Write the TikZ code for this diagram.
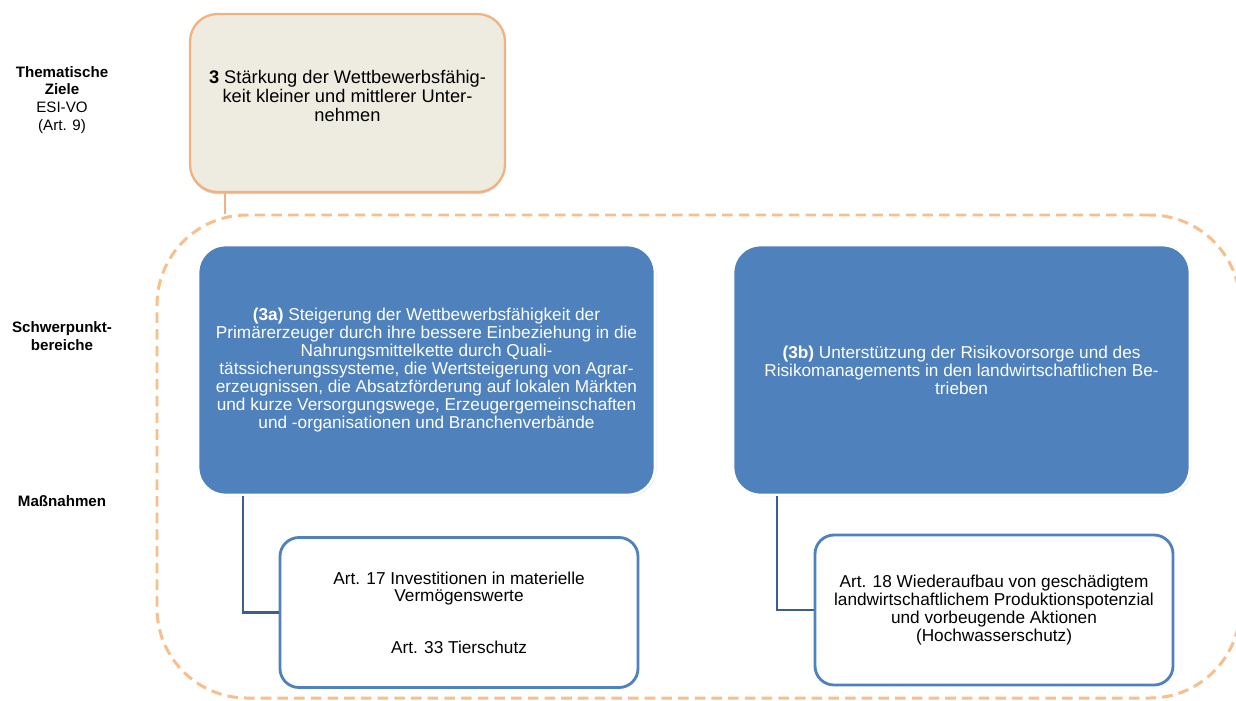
\documentclass[tikz,border=0pt]{standalone}
\usepackage{fontspec}
\setmainfont{Liberation Sans}
\usepackage{tikz}
\usetikzlibrary{positioning,shadows}

\definecolor{zielfill}{HTML}{EEECE1}
\definecolor{zielrand}{HTML}{F2B27F}
\definecolor{rahmen}{HTML}{F7BE8E}
\definecolor{spblau}{HTML}{4F81BD}
\definecolor{linkblau}{HTML}{3A5F8E}

\tikzset{
  goalbox/.style={draw=zielrand,line width=1.3pt,fill=zielfill,rounded corners=0.55cm,
    minimum width=6.3cm,minimum height=3.56cm,align=center,font=\fontsize{10.4}{10.8}\selectfont,
    drop shadow={opacity=0.35,shadow xshift=0pt,shadow yshift=-1.2pt}},
  focusbox/.style={draw=white,line width=1.5pt,fill=spblau,rounded corners=0.55cm,
    minimum width=9.14cm,minimum height=5.0cm,align=center,text=white,
    drop shadow={opacity=0.2,shadow xshift=0.8pt,shadow yshift=-0.8pt}},
  measurebox/.style={draw=spblau,line width=1.6pt,fill=white,rounded corners=0.38cm,
    minimum width=7.16cm,minimum height=3.0cm,align=center},
  sidelabel/.style={align=center,font=\fontsize{8.6}{10.2}\selectfont},
  framebox/.style={draw=rahmen,line width=1.7pt,dash pattern=on 6pt off 3.5pt,rounded corners=1.8cm},
  link/.style={draw=linkblau,line width=1.6pt},
  stem/.style={draw=zielrand,line width=1.5pt}
}

\begin{document}
\begin{tikzpicture}[font=\fontsize{9.8}{10.2}\selectfont]
\clip (0,0) rectangle (24.72,-14);

% left column
\node[sidelabel] (lz) at (1.24,-2.0) {\textbf{Thematische}\\\textbf{Ziele}\\ESI-VO\\(Art. 9)};
\node[sidelabel] (lsp) at (1.24,-6.72) {\textbf{Schwerpunkt-}\\\textbf{bereiche}};
\node[sidelabel] (lm) at (1.24,-10.02) {\textbf{Maßnahmen}};

% dashed frame round the focus areas
\node[framebox,minimum width=21.66cm,minimum height=9.66cm] (area) at (13.97,-9.13) {};

% thematic goal
\node[goalbox] (ziel3) at (6.95,-2.06) {\textbf{3} Stärkung der Wettbewerbsfähig-\\keit kleiner und mittlerer Unter-\\nehmen\\[-3pt]};
\draw[stem] ([xshift=-2.45cm]ziel3.south) -- ([xshift=-2.45cm]ziel3.south |- area.north);

% focus areas
\node[focusbox] (sp3a) at (8.53,-7.4) {\textbf{(3a)} Steigerung der Wettbewerbsfähigkeit der\\Primärerzeuger durch ihre bessere Einbeziehung in die\\Nahrungsmittelkette durch Quali-\\tätssicherungssysteme, die Wertsteigerung von Agrar-\\erzeugnissen, die Absatzförderung auf lokalen Märkten\\und kurze Versorgungswege, Erzeugergemeinschaften\\und -organisationen und Branchenverbände};
\node[focusbox] (sp3b) at (19.23,-7.4) {\textbf{(3b)} Unterstützung der Risikovorsorge und des\\Risikomanagements in den landwirtschaftlichen Be-\\trieben};

% measures
\node[measurebox] (m17) at (9.18,-12.25) {Art. 17 Investitionen in materielle\\Vermögenswerte\\[19pt]Art. 33 Tierschutz};
\node[measurebox] (m18) at (19.88,-12.2) {Art. 18 Wiederaufbau von geschädigtem\\landwirtschaftlichem Produktionspotenzial\\und vorbeugende Aktionen\\(Hochwasserschutz)};

\draw[link] ([xshift=-3.67cm]sp3a.south) |- (m17.west);
\draw[link] ([xshift=-3.69cm]sp3b.south) |- (m18.west);
\end{tikzpicture}
\end{document}
